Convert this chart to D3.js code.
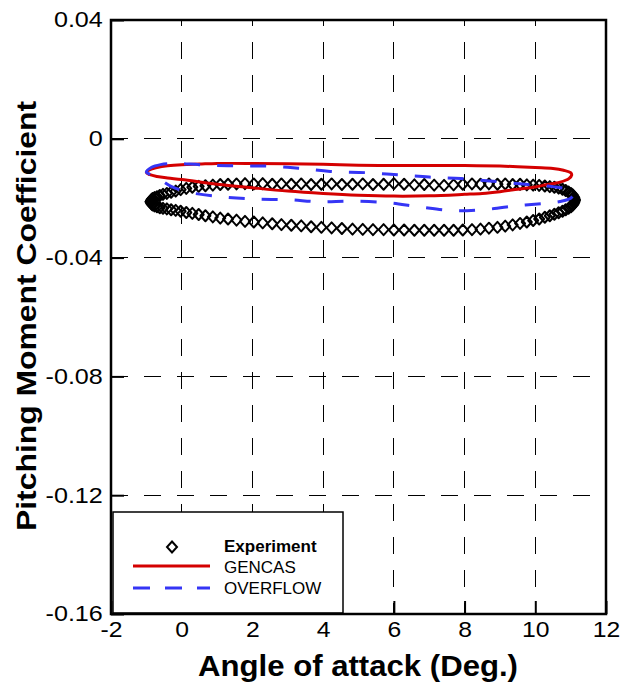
<!DOCTYPE html>
<html><head><meta charset="utf-8">
<script src="https://cdn.jsdelivr.net/npm/d3@7"></script>
<style>body{margin:0;background:#fff}svg{display:block}</style>
</head><body><svg id="c" width="624" height="691"></svg>
<script>
const xTicks=[-2,0,2,4,6,8,10,12];
const xTickLabels=["-2","0","2","4","6","8","10","12"];
const yTicks=[0.04,0,-0.04,-0.08,-0.12,-0.16];
const yTickLabels=["0.04","0","-0.04","-0.08","-0.12","-0.16"];
const seriesNames=["Experiment","GENCAS","OVERFLOW"];

const expAlpha=[-0.88,-0.87,-0.85,-0.82,-0.77,-0.70,-0.62,-0.53,-0.42,-0.30,
 -0.17,-0.03,0.13,0.30,0.48,0.67,0.88,1.09,1.31,1.55,
 1.79,2.04,2.29,2.56,2.82,3.10,3.38,3.66,3.95,4.24,
 4.53,4.83,5.12,5.41,5.71,6.00,6.29,6.58,6.86,7.14,
 7.42,7.69,7.95,8.21,8.45,8.69,8.93,9.15,9.36,9.57,
 9.76,9.94,10.11,10.27,10.41,10.54,10.66,10.77,10.86,10.94,
 11.01,11.06,11.09,11.11,11.12];
const expUpper=[-0.0212,-0.0208,-0.0204,-0.0201,-0.0198,-0.0195,-0.0191,-0.0187,-0.0184,-0.0180,
 -0.0176,-0.0171,-0.0167,-0.0163,-0.0160,-0.0158,-0.0156,-0.0154,-0.0153,-0.0152,
 -0.0151,-0.0152,-0.0151,-0.0153,-0.0152,-0.0153,-0.0152,-0.0154,-0.0153,-0.0152,
 -0.0154,-0.0153,-0.0152,-0.0154,-0.0153,-0.0151,-0.0153,-0.0155,-0.0154,-0.0156,
 -0.0157,-0.0155,-0.0153,-0.0152,-0.0153,-0.0152,-0.0153,-0.0152,-0.0154,-0.0153,
 -0.0155,-0.0156,-0.0157,-0.0159,-0.0161,-0.0163,-0.0166,-0.0170,-0.0174,-0.0179,
 -0.0184,-0.0189,-0.0195,-0.0200,-0.0206];
const expLower=[-0.0212,-0.0216,-0.0220,-0.0223,-0.0226,-0.0229,-0.0232,-0.0234,-0.0236,-0.0239,
 -0.0241,-0.0244,-0.0248,-0.0251,-0.0255,-0.0259,-0.0263,-0.0267,-0.0270,-0.0274,
 -0.0278,-0.0280,-0.0283,-0.0286,-0.0289,-0.0291,-0.0293,-0.0296,-0.0298,-0.0300,
 -0.0302,-0.0304,-0.0305,-0.0306,-0.0306,-0.0307,-0.0307,-0.0308,-0.0308,-0.0308,
 -0.0308,-0.0308,-0.0307,-0.0306,-0.0304,-0.0301,-0.0298,-0.0294,-0.0290,-0.0285,
 -0.0280,-0.0275,-0.0270,-0.0264,-0.0259,-0.0254,-0.0249,-0.0244,-0.0239,-0.0234,
 -0.0229,-0.0223,-0.0218,-0.0212,-0.0206];

const gencasAlpha=[-1.00,-0.90,-0.70,-0.40,0.0,0.5,1.0,2.0,3.0,4.0,5.0,6.0,7.0,8.0,9.0,9.5,10.0,10.5,10.8,11.0,
 11.03,10.95,10.7,10.3,10.0,9.5,9.0,8.5,8.0,7.0,6.0,5.0,4.0,3.0,2.0,1.0,0.0,-0.4,-0.7,-0.9];
const gencasCm=[-0.0114,-0.0104,-0.0097,-0.0091,-0.0087,-0.0085,-0.0083,-0.0083,-0.0084,-0.0086,-0.0089,-0.0090,-0.0090,-0.0090,-0.0092,-0.0094,-0.0097,-0.0100,-0.0106,-0.0114,
 -0.0122,-0.0134,-0.0146,-0.0155,-0.0162,-0.0170,-0.0178,-0.0184,-0.0187,-0.0192,-0.0193,-0.0190,-0.0184,-0.0176,-0.0165,-0.0153,-0.0137,-0.0132,-0.0127,-0.0121];

const overflowAlpha=[-1.00,-0.85,-0.60,-0.20,0.5,1.4,2.4,3.3,4.2,5.2,6.1,7.0,7.9,8.8,9.8,10.5,10.9,11.1,
 11.0,10.7,10.3,9.5,8.6,7.7,6.7,5.8,4.8,3.9,3.0,2.1,1.2,0.2,-0.3,-0.6,-0.85];
const overflowCm=[-0.0112,-0.0096,-0.0087,-0.0083,-0.0087,-0.0091,-0.0092,-0.0099,-0.0110,-0.0114,-0.0121,-0.0129,-0.0134,-0.0143,-0.0154,-0.0161,-0.0170,-0.0185,
 -0.0200,-0.0211,-0.0217,-0.0225,-0.0238,-0.0242,-0.0229,-0.0215,-0.0210,-0.0212,-0.0205,-0.0203,-0.0196,-0.0180,-0.0160,-0.0138,-0.0122];

const W=624,H=691;
const M={left:111,right:606,top:20,bottom:614};
const FONT='"Liberation Sans", Arial, Helvetica, sans-serif';
const RED="#d40000", BLUE="#3535f5";
const x=d3.scaleLinear().domain([-2,12]).range([M.left,M.right]);
const y=d3.scaleLinear().domain([-0.16,0.04]).range([M.bottom,M.top]);
const svg=d3.select("#c");
svg.append("rect").attr("width",W).attr("height",H).attr("fill","#fff");

// grid
const grid=svg.append("g").attr("shape-rendering","crispEdges");
grid.selectAll("line.vg").data(xTicks.filter(v=>v>-2&&v<12)).join("line").attr("class","vg")
  .attr("x1",d=>x(d)).attr("x2",d=>x(d)).attr("y1",M.top).attr("y2",M.bottom)
  .attr("stroke","#000").attr("stroke-width",1).attr("stroke-dasharray","17,16").attr("stroke-dashoffset",11.3);
grid.selectAll("line.hg").data(yTicks.filter(v=>v>-0.16&&v<0.04)).join("line").attr("class","hg")
  .attr("x1",M.left).attr("x2",M.right).attr("y1",d=>y(d)).attr("y2",d=>y(d))
  .attr("stroke","#000").attr("stroke-width",1).attr("stroke-dasharray","17,16");

// experiment
const diamond="M0,-5.5L5,0L0,5.5L-5,0Z";
const expPts=expAlpha.map((a,i)=>[a,expUpper[i]]).concat(expAlpha.map((a,i)=>[a,expLower[i]]));
svg.append("g").selectAll("path").data(expPts).join("path")
  .attr("d",diamond).attr("transform",d=>`translate(${x(d[0])},${y(d[1])})`)
  .attr("fill","none").attr("stroke","#000").attr("stroke-width",2).attr("stroke-linejoin","round");

// GENCAS
const closed=d3.line().x(d=>x(d[0])).y(d=>y(d[1])).curve(d3.curveCatmullRomClosed.alpha(0.5));
svg.append("path").datum(gencasAlpha.map((a,i)=>[a,gencasCm[i]]))
  .attr("d",closed).attr("fill","none").attr("stroke",RED).attr("stroke-width",3);
// OVERFLOW
svg.append("path").datum(overflowAlpha.map((a,i)=>[a,overflowCm[i]]))
  .attr("d",closed).attr("fill","none").attr("stroke",BLUE).attr("stroke-width",3)
  .attr("stroke-dasharray","16,17");

// axes
const xAxis=d3.axisBottom(x).tickValues(xTicks).tickSize(-13).tickPadding(8).tickFormat((d,i)=>xTickLabels[i]);
svg.append("g").attr("transform",`translate(0,${M.bottom})`).call(xAxis)
  .attr("font-family",FONT).attr("font-size",21.5)
  .call(a=>a.select(".domain").remove())
  .call(a=>a.selectAll("line").attr("stroke","#000").attr("stroke-width",2))
  .call(a=>a.selectAll("text").attr("fill","#000").attr("transform","scale(1.15,1)"));
const yAxis=d3.axisLeft(y).tickValues(yTicks).tickSize(-13).tickPadding(7).tickFormat((d,i)=>yTickLabels[i]);
svg.append("g").attr("transform",`translate(${M.left},0)`).call(yAxis)
  .attr("font-family",FONT).attr("font-size",21.5)
  .call(a=>a.select(".domain").remove())
  .call(a=>a.selectAll("line").attr("stroke","#000").attr("stroke-width",2))
  .call(a=>a.selectAll("text").attr("fill","#000").attr("x",-7).attr("transform","scale(1.17,1)"));

// legend
const lg=svg.append("g");
lg.append("rect").attr("x",113).attr("y",512).attr("width",230).attr("height",101)
  .attr("fill","#fff").attr("stroke","#000").attr("stroke-width",1.5);
lg.append("path").attr("d",diamond).attr("transform","translate(172,547)")
  .attr("fill","none").attr("stroke","#000").attr("stroke-width",2);
lg.append("line").attr("x1",133).attr("x2",210).attr("y1",566).attr("y2",566).attr("stroke",RED).attr("stroke-width",3);
lg.append("line").attr("x1",133).attr("x2",210).attr("y1",588).attr("y2",588).attr("stroke",BLUE).attr("stroke-width",3).attr("stroke-dasharray","17,15");
const lgY=[552,572.5,593.5];
lg.selectAll("text").data(seriesNames).join("text")
  .attr("x",224).attr("y",(d,i)=>lgY[i]).text(d=>d)
  .attr("font-family",FONT).attr("font-size",17).attr("font-weight",(d,i)=>i===0?"bold":"normal").attr("fill","#000");

// frame
svg.append("rect").attr("x",M.left).attr("y",M.top).attr("width",M.right-M.left).attr("height",M.bottom-M.top)
  .attr("fill","none").attr("stroke","#000").attr("stroke-width",2.5);

// titles
svg.append("text").attr("x",358).attr("y",676).attr("text-anchor","middle")
  .attr("font-family",FONT).attr("font-weight","bold").attr("font-size",30)
  .attr("textLength",320).attr("lengthAdjust","spacingAndGlyphs").text("Angle of attack (Deg.)");
svg.append("text").attr("transform","translate(36,316) rotate(-90)").attr("text-anchor","middle")
  .attr("font-family",FONT).attr("font-weight","bold").attr("font-size",28)
  .attr("textLength",430).attr("lengthAdjust","spacingAndGlyphs").text("Pitching Moment Coefficient");
</script></body></html>
